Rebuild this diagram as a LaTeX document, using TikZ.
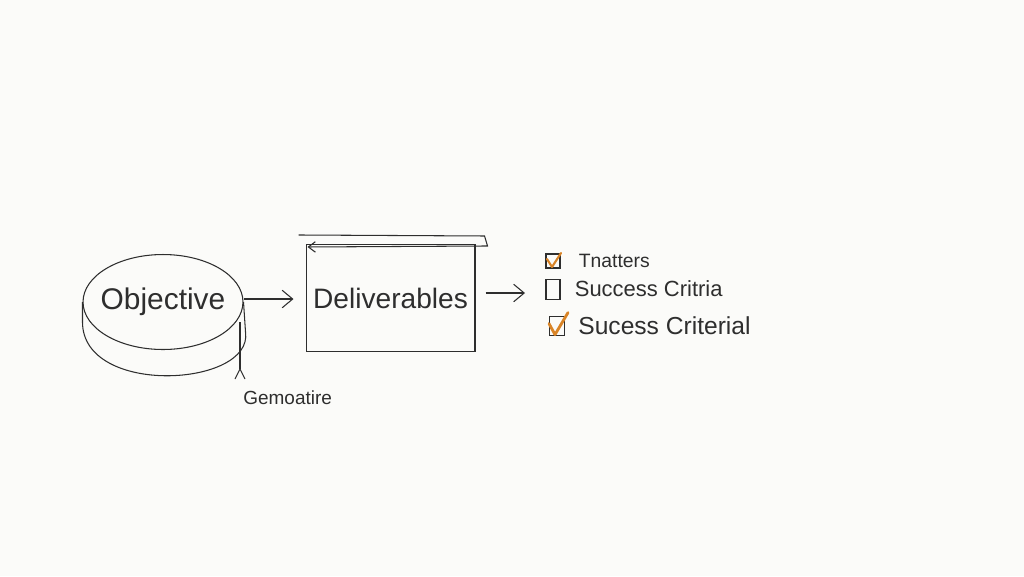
\documentclass[tikz,border=0pt]{standalone}
\usepackage{fontspec}
\setmainfont{Liberation Sans}
\usetikzlibrary{positioning,shapes.geometric,arrows.meta}

\definecolor{pen}{HTML}{2E2E2E}
\definecolor{paper}{HTML}{FBFBF9}
\definecolor{tick}{HTML}{D98427}

\tikzset{
    ink/.style={draw=pen, line width=0.6pt},
    arr/.style={ink, -{Straight Barb[length=6pt,width=10pt]}},
    word/.style={text=pen, inner sep=0pt},
    checkbox/.style={ink, minimum width=0.28cm, minimum height=0.28cm, inner sep=0pt},
    checkmark/.style={draw=tick, line width=1.2pt, line cap=round, line join=round}
}

\begin{document}
\begin{tikzpicture}[x=0.02cm, y=-0.02cm]
    \fill[paper] (0,0) rectangle (1024,576);
    \useasboundingbox (0,0) rectangle (1024,576);

    \node[ink, ellipse, inner xsep=-0.2cm, inner ysep=0pt, minimum width=3.2cm, minimum height=1.9cm, text=pen, font=\fontsize{17}{20}\selectfont] (obj) at (163,302) {Objective};
    \draw[ink] (obj.west) -- ++(0,20) .. controls +(0,75) and +(8,55) .. ([shift={(2,30)}]obj.east) -- (obj.east);

    \node[ink, rectangle, minimum width=3.38cm, minimum height=2.14cm, text=pen, font=\fontsize{16}{19}\selectfont, right=1.24cm of obj, yshift=0.08cm] (del) {Deliverables};
    \draw[ink, -{Straight Barb[length=4pt,width=6pt]}] ([shift={(-7,-9)}]del.north west) -- ([shift={(9,-8)}]del.north east) -- ([shift={(12,2)}]del.north east) -- ([shift={(2,3)}]del.north west);

    \draw[arr, shorten >=0.24cm] ([yshift=0.06cm]obj.east) -- ([yshift=0.06cm]del.west |- obj.east);

    \coordinate (a2) at (525,293);
    \draw[arr, shorten <=0.2cm] (del.east |- a2) -- (a2);

    \node[checkbox] (box1) at (553,261) {};
    \node[checkbox, minimum height=0.4cm, below=0.2cm of box1] (box2) {};
    \node[checkbox, minimum width=0.3cm, minimum height=0.38cm, below=0.32cm of box2, xshift=0.08cm] (box3) {};

    \node[word, font=\fontsize{11}{13}\selectfont, right=0.36cm of box1] (lab1) {Tnatters};
    \node[word, font=\fontsize{12.5}{15}\selectfont, right=0.28cm of box2] (lab2) {Success Critria};
    \node[word, font=\fontsize{14}{17}\selectfont, right=0.26cm of box3] (lab3) {Sucess Criterial};

    \draw[checkmark] ([shift={(-6,-2)}]box1.center) -- ([shift={(-1,6)}]box1.center) -- ([shift={(8,-8)}]box1.center);
    \draw[checkmark, line width=1.6pt] ([shift={(-8,-2)}]box3.center) -- ([shift={(-2,9)}]box3.center) -- ([shift={(11,-13)}]box3.center);

    \node[word, font=\fontsize{10.8}{13}\selectfont, anchor=north west] (gem) at (243,390) {Gemoatire};
    \coordinate (gtop) at (240,322);
    \coordinate (gtip) at (240,369);
    \draw[ink] (gtip) -- (gtop);
    \draw[ink] ([shift={(-5,10)}]gtip) -- (gtip) -- ([shift={(5,10)}]gtip);
\end{tikzpicture}
\end{document}
